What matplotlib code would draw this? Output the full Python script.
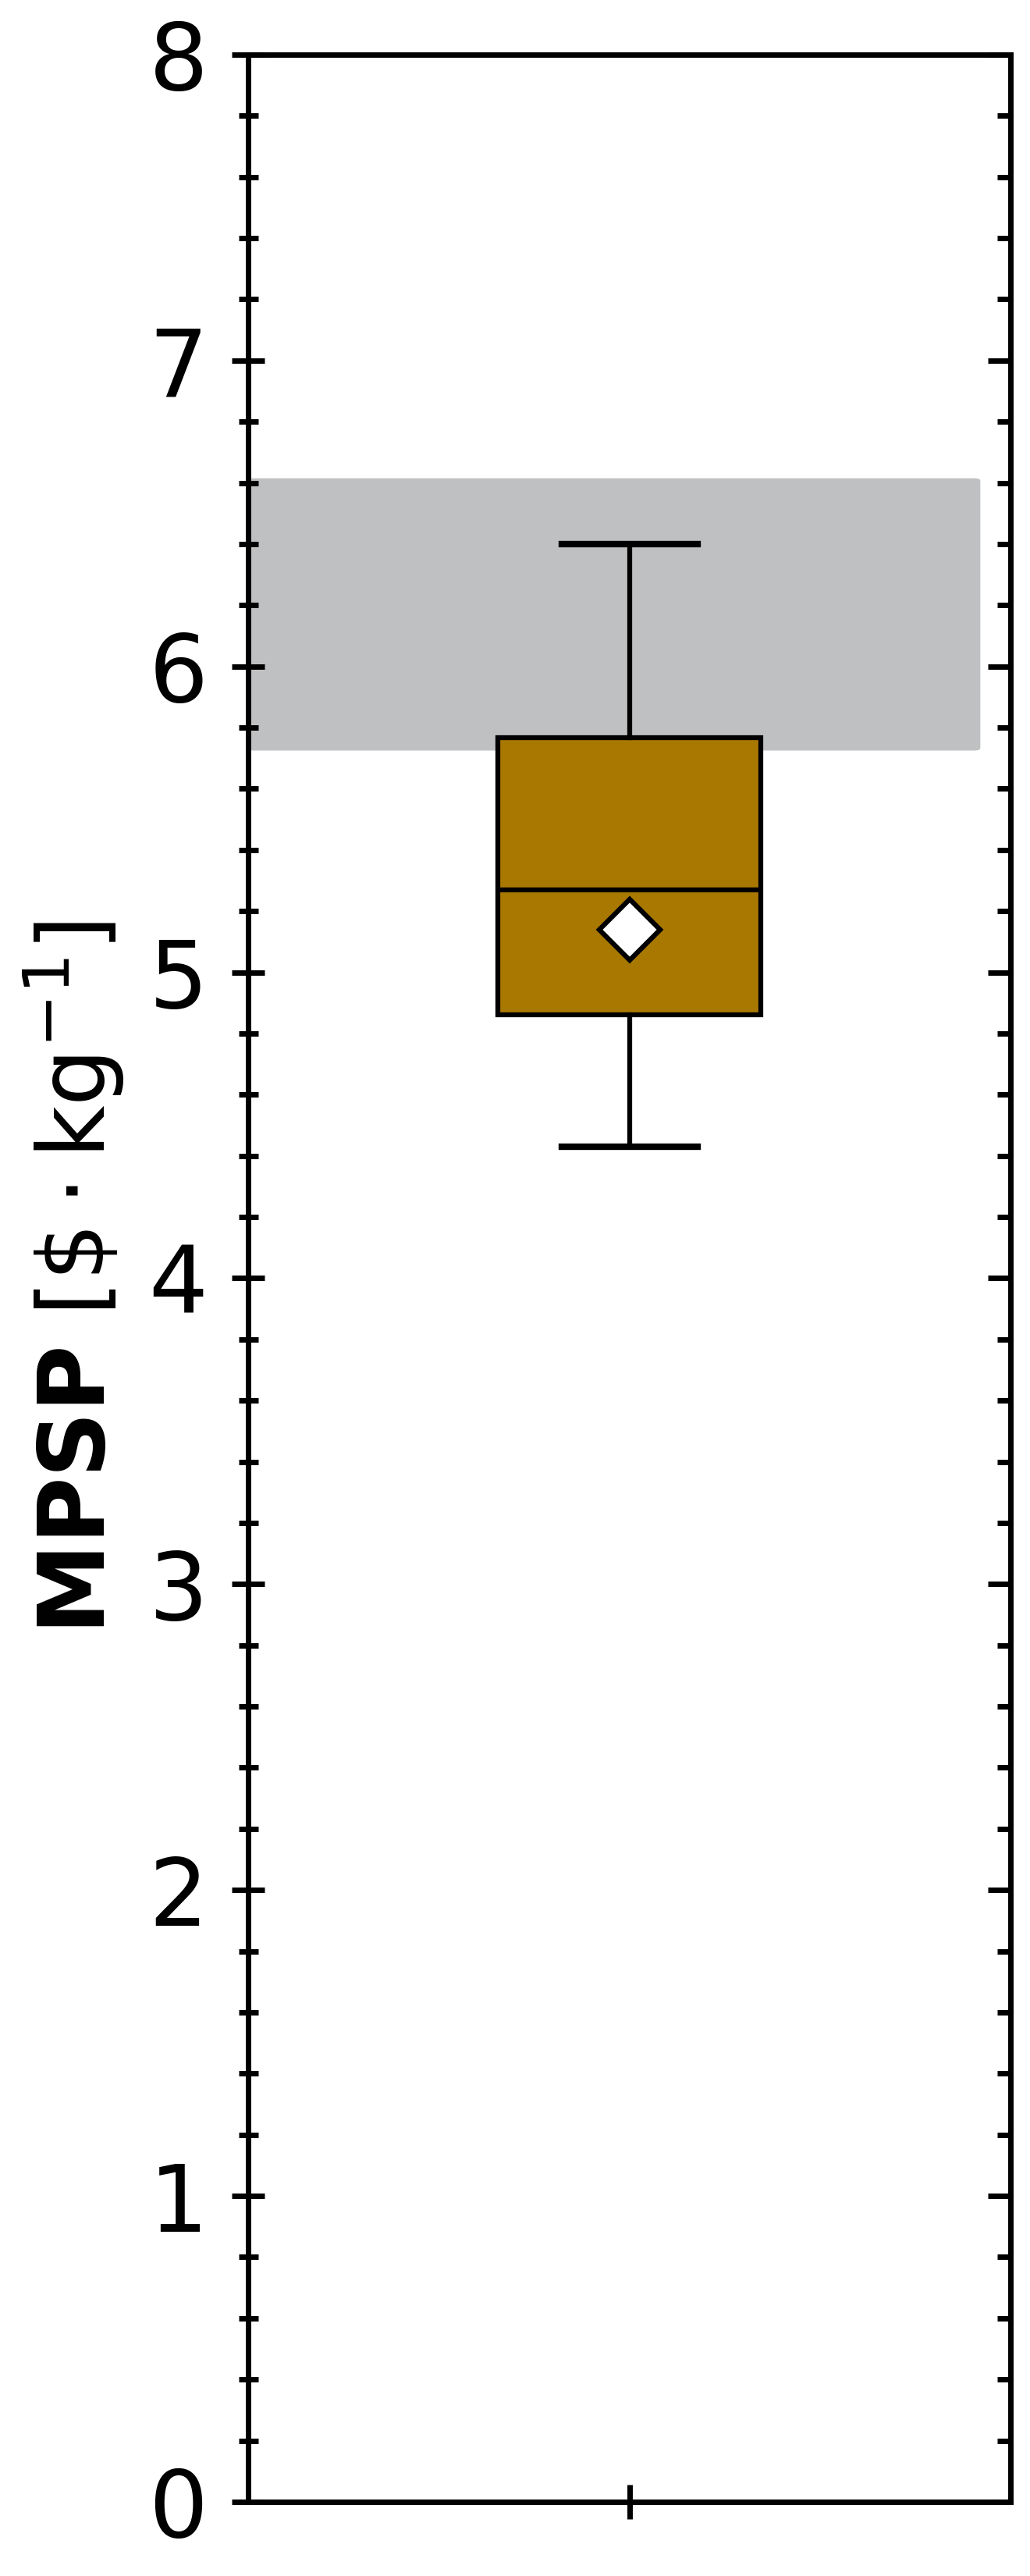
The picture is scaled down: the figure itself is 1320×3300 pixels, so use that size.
import matplotlib
matplotlib.use("Agg")
import matplotlib.pyplot as plt
from matplotlib.patches import FancyBboxPatch
from matplotlib.ticker import MultipleLocator

# ---- data ----
categories = [""]
q1 = [4.86]
median = [5.27]
q3 = [5.768]
mean = [5.14]
whis_lo = [4.43]
whis_hi = [6.40]
band_lo = 5.725
band_hi = 6.615
y_ticks = [0, 1, 2, 3, 4, 5, 6, 7, 8]

box_color = "#A87800"
band_color = "#BFC0C2"

fig = plt.figure(figsize=(13.2, 33), dpi=100)
ax = fig.add_axes([0.2409, 0.0288, 0.7405, 0.95])

# background band
band = FancyBboxPatch((-0.5, band_lo), 0.96, band_hi - band_lo,
                      boxstyle="round,pad=0,rounding_size=0.008",
                      facecolor=band_color, edgecolor="none", zorder=1)
ax.add_patch(band)

stats = []
for i in range(len(categories)):
    stats.append(dict(label=categories[i], q1=q1[i], med=median[i], q3=q3[i],
                      mean=mean[i], whislo=whis_lo[i], whishi=whis_hi[i], fliers=[]))

lw = 4.5
ax.bxp(stats, positions=[0], widths=0.345, capwidths=0.178, showmeans=True,
       patch_artist=True,
       boxprops=dict(facecolor=box_color, edgecolor="black", linewidth=lw),
       medianprops=dict(color="black", linewidth=lw),
       whiskerprops=dict(color="black", linewidth=lw),
       capprops=dict(color="black", linewidth=6.0),
       meanprops=dict(marker="D", markerfacecolor="white", markeredgecolor="black",
                      markersize=40, markeredgewidth=4.5),
       zorder=3)

ax.set_xlim(-0.5, 0.5)
ax.set_ylim(0, 8)
ax.set_xticks([0])
ax.set_xticklabels([""])
ax.set_yticks(y_ticks)
ax.set_yticklabels([str(t) for t in y_ticks])
ax.yaxis.set_minor_locator(MultipleLocator(0.2))

for s in ax.spines.values():
    s.set_linewidth(5)

ax.tick_params(axis="y", which="major", direction="inout", length=30, width=5,
               labelsize=86, pad=22, left=True, right=False)
ax.tick_params(axis="y", which="minor", direction="inout", length=18, width=5,
               left=True, right=False)
ax.tick_params(axis="x", which="major", direction="inout", length=31, width=5,
               bottom=True, top=False)

# right-side inward ticks
ax2 = ax.twinx()
ax2.set_ylim(ax.get_ylim())
ax2.set_yticks(y_ticks)
ax2.yaxis.set_minor_locator(MultipleLocator(0.2))
ax2.tick_params(axis="y", which="major", direction="in", length=21, width=5,
                labelright=False)
ax2.tick_params(axis="y", which="minor", direction="in", length=12, width=5)
for s in ax2.spines.values():
    s.set_visible(False)

ax.set_ylabel(r"$\mathbf{MPSP}$ [$\$\cdot\mathrm{kg}^{-1}$]", fontsize=84, labelpad=21)

fig.savefig("out.png", dpi=100)
